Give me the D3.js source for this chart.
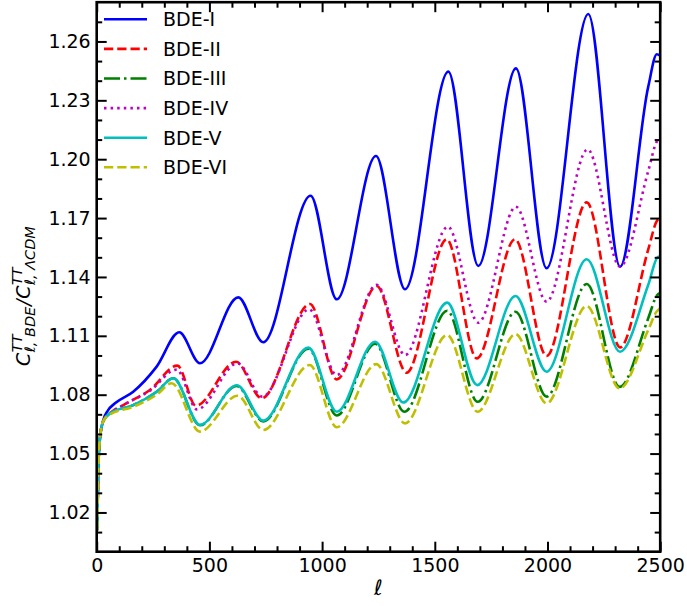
<!DOCTYPE html>
<html>
<head>
<meta charset="utf-8">
<script src="https://cdn.jsdelivr.net/npm/d3@7"></script>
<style>
  body { margin: 0; background: #fff; }
  svg text { font-family: "DejaVu Sans", sans-serif; }
</style>
</head>
<body>
<svg id="chart" width="687" height="606"></svg>
<script>
// C_l ratio BDE / LCDM

var seriesNames = ["BDE-I", "BDE-II", "BDE-III", "BDE-IV", "BDE-V", "BDE-VI"];

// [ell, ratio] pairs, mostly at the peaks and troughs
var bde1 = [[2,1.011],[8,1.045],[15,1.0586],[29,1.067],[50,1.072],[81,1.0756],[162,1.0815],[266,1.0943],
  [366,1.1118],[458,1.096],[628,1.1296],[739,1.1067],[949,1.1814],[1065,1.1286],[1239,1.2016],
  [1368,1.1337],[1560,1.2446],[1693,1.1456],[1860,1.2463],[1996,1.1444],[2181,1.274],[2322,1.1452],
  [2447,1.237],[2485,1.2535],[2500,1.2528]];
var bde2 = [[2,1.011],[8,1.045],[15,1.0583],[29,1.0665],[59,1.0705],[118,1.0747],[236,1.0824],
  [358,1.0948],[440,1.0744],[618,1.0968],[732,1.0782],[946,1.1262],[1065,1.0878],[1242,1.1354],
  [1375,1.0912],[1553,1.1592],[1686,1.0985],[1856,1.1592],[1996,1.0997],[2174,1.178],[2322,1.1041],
  [2447,1.154],[2485,1.1685],[2500,1.170]];
var bde3 = [[2,1.011],[8,1.045],[15,1.0583],[29,1.0665],[59,1.0705],[162,1.0747],[266,1.0815],
  [340,1.0884],[458,1.0644],[620,1.0845],[739,1.0664],[939,1.1035],[1065,1.0694],[1235,1.106],
  [1365,1.0713],[1555,1.1228],[1690,1.0764],[1858,1.1223],[1996,1.079],[2174,1.1364],[2320,1.084],
  [2447,1.119],[2485,1.1305],[2500,1.1318]];
var bde4 = [[2,1.011],[8,1.045],[15,1.0583],[29,1.0665],[59,1.0705],[118,1.0747],[236,1.082],
  [355,1.0928],[445,1.0725],[625,1.096],[735,1.079],[942,1.1235],[1065,1.090],[1242,1.136],
  [1368,1.1002],[1558,1.1656],[1693,1.1167],[1860,1.1758],[1996,1.1274],[2178,1.205],[2322,1.1452],
  [2447,1.194],[2485,1.209],[2500,1.2106]];
var bde5 = [[2,1.011],[8,1.045],[15,1.0583],[29,1.0665],[59,1.0705],[162,1.0747],[266,1.0815],
  [340,1.0884],[458,1.0646],[622,1.0848],[739,1.0668],[939,1.104],[1065,1.0713],[1235,1.107],
  [1360,1.076],[1555,1.1269],[1688,1.0849],[1858,1.1303],[1996,1.0917],[2174,1.149],[2322,1.1019],
  [2447,1.136],[2490,1.1502],[2500,1.1504]];
var bde6 = [[2,1.011],[8,1.045],[15,1.0583],[29,1.0665],[59,1.0700],[162,1.0738],[266,1.0800],
  [333,1.0858],[458,1.0612],[625,1.0795],[739,1.062],[945,1.0951],[1065,1.0634],[1240,1.0956],
  [1368,1.0654],[1555,1.1104],[1690,1.0713],[1858,1.1109],[1996,1.0756],[2174,1.1252],[2320,1.0832],
  [2447,1.113],[2485,1.1225],[2500,1.124]];

var xTicks = [0, 500, 1000, 1500, 2000, 2500];
var yTicks = [1.02, 1.05, 1.08, 1.11, 1.14, 1.17, 1.20, 1.23, 1.26];

var allSeries = [bde1, bde2, bde3, bde4, bde5, bde6];
var colors = ["#0000ff", "#ff0000", "#008000", "#bf00bf", "#00bfbf", "#bfbf00"];
var dashes = [null, "9.25,4", "16,4,2.5,4", "2.5,4.1", null, "9.25,4"];

// plot box in page pixels (note: "top" is taken by window.top)
var plotL = 96.7, plotR = 660.2, plotT = 2.2, plotB = 551.7;

var svg = d3.select("#chart");

var x = d3.scaleLinear().domain([0, 2500]).range([plotL, plotR]);
var y = d3.scaleLinear().domain([1.0, 1.28]).range([plotB, plotT]);

svg.append("clipPath").attr("id", "plotclip")
  .append("rect").attr("x", plotL).attr("y", plotT)
  .attr("width", plotR - plotL).attr("height", plotB - plotT);

var line = d3.line()
  .x(function (d) { return x(d[0]); })
  .y(function (d) { return y(d[1]); })
  .curve(d3.curveMonotoneX);

var lines = svg.append("g").attr("clip-path", "url(#plotclip)");
allSeries.forEach(function (s, i) {
  lines.append("path")
    .attr("d", line(s))
    .attr("fill", "none")
    .attr("stroke", colors[i])
    .attr("stroke-width", 2.6)
    .attr("stroke-dasharray", dashes[i]);
});

///////////////////////////////////////////////////////////////////////////////
// Axes (ticks pointing in, on all four sides)

var xMinor = d3.range(0, 2501, 100).filter(function (v) { return v % 500 !== 0; });
var yMinor = d3.range(1, 28).map(function (v) { return 1 + v / 100; })
  .filter(function (v) { return yTicks.indexOf(+v.toFixed(2)) < 0; });

function styleAxis(g) {
  g.select(".domain").remove();
  g.selectAll(".tick line").attr("stroke", "#000").attr("stroke-width", 2);
  g.selectAll("text").attr("font-size", 19).attr("fill", "#000")
    .attr("font-family", "DejaVu Sans, sans-serif");
}

svg.append("g").attr("transform", "translate(0," + plotB + ")")
  .call(d3.axisBottom(x).tickValues(xTicks).tickSize(-10).tickPadding(7)
    .tickFormat(d3.format("d")))
  .call(styleAxis);
svg.append("g").attr("transform", "translate(0," + plotB + ")")
  .call(d3.axisBottom(x).tickValues(xMinor).tickSize(-5.5).tickFormat(""))
  .call(styleAxis);
svg.append("g").attr("transform", "translate(0," + plotT + ")")
  .call(d3.axisTop(x).tickValues(xTicks).tickSize(-10).tickFormat(""))
  .call(styleAxis);
svg.append("g").attr("transform", "translate(0," + plotT + ")")
  .call(d3.axisTop(x).tickValues(xMinor).tickSize(-5.5).tickFormat(""))
  .call(styleAxis);

svg.append("g").attr("transform", "translate(" + plotL + ",0)")
  .call(d3.axisLeft(y).tickValues(yTicks).tickSize(-10).tickPadding(6)
    .tickFormat(d3.format(".2f")))
  .call(styleAxis);
svg.append("g").attr("transform", "translate(" + plotL + ",0)")
  .call(d3.axisLeft(y).tickValues(yMinor).tickSize(-5.5).tickFormat(""))
  .call(styleAxis);
svg.append("g").attr("transform", "translate(" + plotR + ",0)")
  .call(d3.axisRight(y).tickValues(yTicks).tickSize(-10).tickFormat(""))
  .call(styleAxis);
svg.append("g").attr("transform", "translate(" + plotR + ",0)")
  .call(d3.axisRight(y).tickValues(yMinor).tickSize(-5.5).tickFormat(""))
  .call(styleAxis);

svg.append("rect")
  .attr("x", plotL).attr("y", plotT)
  .attr("width", plotR - plotL).attr("height", plotB - plotT)
  .attr("fill", "none").attr("stroke", "#000").attr("stroke-width", 2.6);

// x label
svg.append("text")
  .attr("x", (plotL + plotR) / 2).attr("y", 595)
  .attr("text-anchor", "middle")
  .attr("font-size", 21).attr("font-style", "italic")
  .text("ℓ");

// y label, mathtext-ish: C^{TT}_{l,BDE} / C^{TT}_{l,LCDM}
var yl = svg.append("g").attr("transform", "translate(30,366) rotate(-90)");
var big = 19, small = 14.5;
var pos = 0;
function piece(str, size, dy) {
  var t = yl.append("text").attr("x", pos).attr("y", dy)
    .attr("font-size", size).attr("font-style", "italic").text(str);
  return t.node().getComputedTextLength();
}
pos += piece("C", big, 0) + 0.5;
var w1 = piece("TT", small, -8.5);
var w2 = piece("ℓ, BDE", small, 5);
pos += Math.max(w1, w2) + 1;
pos += piece("/", big, 0) + 0.5;
pos += piece("C", big, 0) + 0.5;
piece("TT", small, -8.5);
piece("ℓ, ΛCDM", small, 5);

///////////////////////////////////////////////////////////////////////////////
// Legend

var legend = svg.append("g");
seriesNames.forEach(function (name, i) {
  var cy = 19.3 + i * 29.6;
  legend.append("line")
    .attr("x1", 104).attr("x2", 147).attr("y1", cy).attr("y2", cy)
    .attr("stroke", colors[i]).attr("stroke-width", 2.6)
    .attr("stroke-dasharray", dashes[i]);
  legend.append("text")
    .attr("x", 163).attr("y", cy + 6.9)
    .attr("font-size", 19)
    .text(name);
});
</script>
</body>
</html>
